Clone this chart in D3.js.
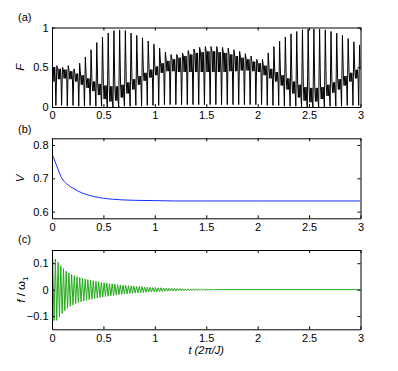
<!DOCTYPE html>
<html><head><meta charset="utf-8">
<script src="https://cdn.jsdelivr.net/npm/d3@7"></script>
<style>body{margin:0;background:#fff}svg{display:block}text{font-family:"Liberation Sans",Arial,Helvetica,sans-serif}</style>
</head><body><svg id="c" width="398" height="371"></svg>
<script>
// ---- data ----
const xTicks = [0, 0.5, 1, 1.5, 2, 2.5, 3];
const xTickLabels = ["0", "0.5", "1", "1.5", "2", "2.5", "3"];
const fTicks = [0, 0.5, 1];
const fTickLabels = ["0", "0.5", "1"];
const vTicks = [0.6, 0.7, 0.8];
const vTickLabels = ["0.6", "0.7", "0.8"];
const gTicks = [-0.1, 0, 0.1];
const gTickLabels = ["\u22120.1", "0", "0.1"];

// panel (a): F, per fast oscillation period (54 periods over t = 0..3)
const fPeak = [0.52,0.50,0.52,0.48,0.55,0.63,0.72,0.81,0.88,0.93,0.96,0.97,0.96,0.93,0.90,0.87,0.83,0.79,
               0.74,0.69,0.66,0.66,0.68,0.71,0.73,0.75,0.76,0.76,0.76,0.75,0.74,0.72,0.70,0.67,0.64,0.60,
               0.60,0.68,0.76,0.83,0.88,0.92,0.95,0.97,0.98,0.98,0.98,0.97,0.95,0.93,0.90,0.86,0.82,0.78];
const fBandTop = [0.50,0.48,0.47,0.45,0.42,0.40,0.36,0.32,0.29,0.27,0.26,0.26,0.28,0.31,0.35,0.39,0.43,0.47,
                  0.51,0.55,0.58,0.60,0.62,0.64,0.66,0.68,0.69,0.70,0.70,0.69,0.68,0.66,0.64,0.62,0.60,0.57,
                  0.55,0.52,0.48,0.44,0.40,0.36,0.32,0.28,0.25,0.24,0.24,0.25,0.28,0.31,0.35,0.39,0.43,0.47];
const fBandBot = [0.32,0.35,0.36,0.35,0.32,0.28,0.24,0.20,0.15,0.10,0.07,0.08,0.12,0.17,0.22,0.28,0.33,0.37,
                  0.40,0.43,0.45,0.45,0.44,0.44,0.44,0.44,0.44,0.44,0.44,0.44,0.44,0.45,0.45,0.46,0.46,0.45,
                  0.44,0.40,0.36,0.32,0.27,0.22,0.17,0.12,0.08,0.06,0.07,0.10,0.14,0.18,0.22,0.27,0.32,0.36];
const fTrough = [0.02,0.02,0.01,0.02,0.01,0.01,0.02,0.01,0.01,0.00,0.00,0.00,0.01,0.01,0.02,0.01,0.02,0.02,
                 0.02,0.03,0.03,0.03,0.03,0.03,0.03,0.03,0.03,0.03,0.03,0.03,0.03,0.03,0.03,0.03,0.03,0.03,
                 0.03,0.02,0.02,0.02,0.01,0.01,0.01,0.00,0.00,0.00,0.00,0.00,0.01,0.01,0.01,0.02,0.02,0.02];

// panel (b): V(t)
const vT = [0, 0.02, 0.04, 0.06, 0.08, 0.1, 0.13, 0.16, 0.2, 0.25, 0.3, 0.4, 0.5, 0.6, 0.7, 0.8, 1.0, 1.2, 1.5, 2.0, 2.5, 3.0];
const vVal = [0.772,0.758,0.742,0.726,0.710,0.698,0.687,0.679,0.671,0.662,0.655,0.646,0.640,0.637,0.635,0.634,0.633,0.632,0.632,0.632,0.632,0.632];

// panel (c): f/omega1 oscillation amplitude per cycle (38 cycles per unit t), then zero
const gAmp = [0.117,0.116,0.104,0.090,0.079,0.070,0.063,0.058,0.053,0.049,0.046,0.043,0.040,0.038,0.036,
              0.034,0.032,0.030,0.028,0.026,0.025,0.023,0.022,0.021,0.019,0.018,0.017,0.016,0.015,0.014,
              0.013,0.012,0.012,0.011,0.010,0.009,0.009,0.008,0.008,0.007,0.007,0.006,0.006,0.005,0.005,
              0.005,0.004,0.004,0.004,0.003,0.003,0.003,0.003,0.002,0.002,0.002,0.002,0.001,0.001,0.001];
const gCyclesPerUnit = 38;

// ---- drawing ----
const svg = d3.select("#c");
const x = d3.scaleLinear().domain([0, 3]).range([52, 360.5]);

const panels = [
  {id:"a", domain:[0,1], range:[107,27.5], ticks:fTicks, labels:fTickLabels, tag:"(a)", tagY:21, ylab:"F"},
  {id:"b", domain:[0.58,0.82], range:[218.3,138.3], ticks:vTicks, labels:vTickLabels, tag:"(b)", tagY:133, ylab:"V"},
  {id:"c", domain:[-0.15,0.15], range:[329.3,250], ticks:gTicks, labels:gTickLabels, tag:"(c)", tagY:243, ylab:"f"}
];

panels.forEach(p => {
  p.y = d3.scaleLinear().domain(p.domain).range(p.range);
  const g = svg.append("g");
  p.g = g;
  svg.append("clipPath").attr("id","clip"+p.id).append("rect")
    .attr("x", x.range()[0]).attr("y", p.range[1])
    .attr("width", x.range()[1]-x.range()[0]).attr("height", p.range[0]-p.range[1]);
  p.plot = g.append("g").attr("clip-path","url(#clip"+p.id+")");
});

// panel a line
{
  const p = panels[0];
  const n = fPeak.length, per = 3 / n;
  const pts = [];
  for (let k = 0; k < n; k++) {
    const t0 = k * per;
    pts.push([t0, fBandTop[k]]);
    pts.push([t0 + 0.12*per, fBandBot[k]]);
    pts.push([t0 + 0.24*per, fBandTop[k]]);
    pts.push([t0 + 0.36*per, fBandBot[k]]);
    pts.push([t0 + 0.48*per, fBandTop[k]]);
    pts.push([t0 + 0.58*per, fBandBot[k]]);
    pts.push([t0 + 0.68*per, fTrough[k]]);
    pts.push([t0 + 0.84*per, fPeak[k]]);
  }
  pts.push([3, fBandTop[n-1]]);
  p.plot.append("path").datum(pts)
    .attr("fill","none").attr("stroke","#000").attr("stroke-width",1)
    .attr("d", d3.line().x(d=>x(d[0])).y(d=>p.y(d[1])));
}
// panel b line
{
  const p = panels[1];
  const pts = vT.map((t,i)=>[t, vVal[i]]);
  p.plot.append("path").datum(pts)
    .attr("fill","none").attr("stroke","#1030ff").attr("stroke-width",1)
    .attr("d", d3.line().curve(d3.curveMonotoneX).x(d=>x(d[0])).y(d=>p.y(d[1])));
}
// panel c line
{
  const p = panels[2];
  const per = 1 / gCyclesPerUnit;
  const pts = [[0,0]];
  gAmp.forEach((a,k)=>{
    pts.push([k*per + 0.25*per, a]);
    pts.push([k*per + 0.75*per, -a]);
  });
  pts.push([gAmp.length*per, 0]);
  pts.push([3, 0]);
  p.plot.append("path").datum(pts)
    .attr("fill","none").attr("stroke","#22aa18").attr("stroke-width",1)
    .attr("d", d3.line().x(d=>x(d[0])).y(d=>p.y(d[1])));
}

// axes (MATLAB style box with inward ticks)
panels.forEach(p => {
  const g = p.g;
  const bottom = g.append("g").attr("transform",`translate(0,${p.range[0]})`)
    .call(d3.axisBottom(x).tickValues(xTicks).tickFormat((d,i)=>xTickLabels[i]).tickSizeInner(-3).tickSizeOuter(0).tickPadding(4.5));
  const top = g.append("g").attr("transform",`translate(0,${p.range[1]})`)
    .call(d3.axisTop(x).tickValues(xTicks).tickFormat("").tickSizeInner(-3).tickSizeOuter(0));
  const left = g.append("g").attr("transform",`translate(${x.range()[0]},0)`)
    .call(d3.axisLeft(p.y).tickValues(p.ticks).tickFormat((d,i)=>p.labels[i]).tickSizeInner(-3).tickSizeOuter(0).tickPadding(3.5));
  const right = g.append("g").attr("transform",`translate(${x.range()[1]},0)`)
    .call(d3.axisRight(p.y).tickValues(p.ticks).tickFormat("").tickSizeInner(-3).tickSizeOuter(0));
  [bottom, top, left, right].forEach(a => {
    a.selectAll("path.domain").attr("stroke","#000").attr("stroke-width",1);
    a.selectAll("line").attr("stroke","#000").attr("stroke-width",1);
    a.selectAll("text").attr("font-size",11).attr("fill","#000")
      .attr("font-family",'"Liberation Sans",Arial,sans-serif');
  });
  // panel tag
  svg.append("text").attr("x",18).attr("y",p.tagY).attr("font-size",11).text(p.tag);
  // y label
  const cy = (p.range[0]+p.range[1])/2;
  const yl = svg.append("text").attr("transform",`translate(${p.id==="c"?25:24},${cy}) rotate(-90)`)
    .attr("text-anchor","middle").attr("font-size",11.5);
  if (p.id === "c") {
    yl.append("tspan").attr("font-style","italic").text("f");
    yl.append("tspan").text(" / \u03C9");
    yl.append("tspan").attr("font-size",8).attr("dy",3).text("1");
  } else {
    yl.attr("font-style","italic").text(p.ylab);
  }
});

svg.append("text").attr("x", (x.range()[0]+x.range()[1])/2).attr("y",354)
  .attr("text-anchor","middle").attr("font-size",11).attr("font-style","italic")
  .text("t (2\u03C0/J)");
</script></body></html>
